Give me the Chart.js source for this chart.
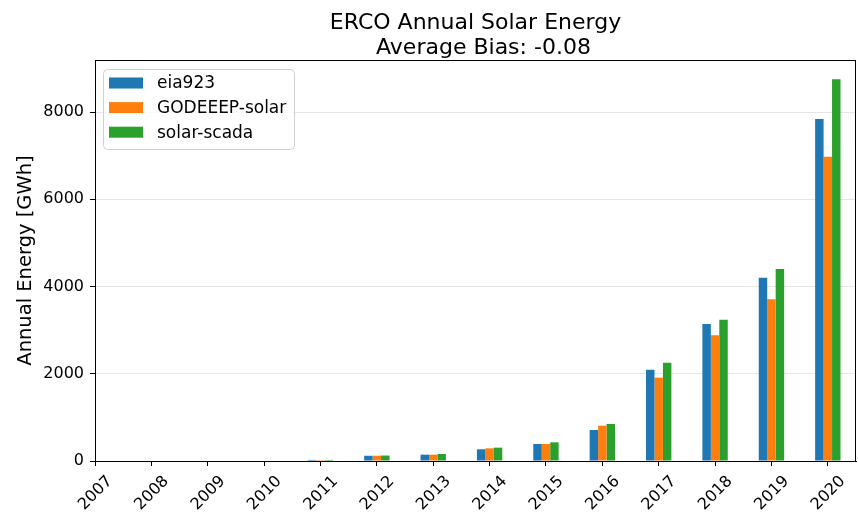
<!DOCTYPE html>
<html>
<head>
<meta charset="utf-8">
<script src="https://cdn.jsdelivr.net/npm/chart.js@4.4.1/dist/chart.umd.min.js"></script>
<style>
  html, body { margin: 0; padding: 0; background: #fff; }
  #wrap { width: 858px; height: 512px; }
</style>
</head>
<body>
<div id="wrap"><canvas id="solarBar" width="858" height="512"></canvas></div>
<script>
// annual solar energy per year, GWh
const years = ['2007', '2008', '2009', '2010', '2011', '2012', '2013',
               '2014', '2015', '2016', '2017', '2018', '2019', '2020'];
const eia923 = [0, 0, 0, 0, 25, 120, 145, 268, 390, 711, 2095, 3142, 4204, 7844];
const godeeepSolar = [0, 0, 0, 0, 22, 120, 145, 291, 390, 810, 1911, 2882, 3708, 6979];
const solarScada = [0, 0, 0, 0, 25, 125, 160, 306, 428, 849, 2255, 3241, 4404, 8755];
const yTicks = [0, 2000, 4000, 6000, 8000];

const titleLines = ['ERCO Annual Solar Energy', 'Average Bias: -0.08'];
const FONT = "'DejaVu Sans', sans-serif";

// bars sit on a linear x axis so the last year gets half a slot of room on the right
const toPoints = arr => arr.map((v, i) => ({ x: i, y: v }));

// title + frame + boxed legend, drawn by hand
const decorations = {
  id: 'decorations',
  afterDatasetsDraw(chart) {
    const { ctx, chartArea: a } = chart;
    ctx.save();
    ctx.strokeStyle = '#000';
    ctx.lineWidth = 1;
    ctx.strokeRect(a.left + 0.5, a.top + 0.5, a.right - a.left - 1, a.bottom - a.top);
    ctx.restore();
  },
  afterDraw(chart) {
    const { ctx, chartArea: a } = chart;
    const cx = (a.left + a.right) / 2;
    ctx.save();
    ctx.fillStyle = '#000';
    ctx.font = `22px ${FONT}`;
    ctx.textAlign = 'center';
    ctx.textBaseline = 'alphabetic';
    ctx.fillText(titleLines[0], cx, 29);
    ctx.fillText(titleLines[1], cx + 8, 54);

    // legend box
    const bx = 103, by = 69, bw = 191, bh = 80;
    ctx.beginPath();
    ctx.roundRect(bx + 0.5, by + 0.5, bw, bh, 4);
    ctx.fillStyle = 'rgba(255,255,255,0.8)';
    ctx.fill();
    ctx.strokeStyle = '#d0d0d0';
    ctx.stroke();

    ctx.font = `17px ${FONT}`;
    ctx.textAlign = 'left';
    ctx.textBaseline = 'middle';
    chart.data.datasets.forEach((ds, i) => {
      const y = 83 + i * 24.6;
      ctx.fillStyle = ds.backgroundColor;
      ctx.fillRect(109, y - 5.5, 34, 11);
      ctx.fillStyle = '#000';
      ctx.fillText(ds.label, 157, y + 1);
    });
    ctx.restore();
  }
};

const chart = new Chart(document.getElementById('solarBar').getContext('2d'), {
  type: 'bar',
  data: {
    datasets: [
      { label: 'eia923', data: toPoints(eia923), backgroundColor: '#1f77b4' },
      { label: 'GODEEEP-solar', data: toPoints(godeeepSolar), backgroundColor: '#ff7f0e' },
      { label: 'solar-scada', data: toPoints(solarScada), backgroundColor: '#2ca02c' }
    ]
  },
  options: {
    responsive: false,
    animation: false,
    layout: { padding: { top: 60, right: 2, left: 0, bottom: 0 } },
    datasets: {
      bar: { categoryPercentage: 0.45, barPercentage: 1.0, borderWidth: 0 }
    },
    plugins: {
      legend: { display: false },
      title: { display: false },
      tooltip: { enabled: false }
    },
    scales: {
      x: {
        type: 'linear',
        min: 0,
        max: 13.5,
        offset: false,
        afterBuildTicks: s => { s.ticks = years.map((_, i) => ({ value: i })); },
        afterFit: s => { s.height = 51; },
        grid: { offset: false, drawOnChartArea: false, tickLength: 5, tickColor: '#000' },
        border: { color: '#000' },
        ticks: {
          color: '#000',
          font: { family: FONT, size: 16 },
          minRotation: 45,
          maxRotation: 45,
          labelOffset: 15,
          padding: 6,
          callback: v => years[v] ?? ''
        }
      },
      y: {
        min: 0,
        max: 9195,
        afterBuildTicks: s => { s.ticks = yTicks.map(v => ({ value: v })); },
        afterFit: s => { s.width = 95; },
        grid: { color: '#e6e6e6', tickLength: 5, tickColor: '#000' },
        border: { color: '#000' },
        ticks: {
          color: '#000',
          font: { family: FONT, size: 16 },
          padding: 6,
          callback: v => String(v)
        },
        title: {
          display: true,
          text: 'Annual Energy [GWh]',
          color: '#000',
          font: { family: FONT, size: 19.5 },
          padding: { top: 14, bottom: 4 }
        }
      }
    }
  },
  plugins: [decorations]
});
</script>
</body>
</html>
